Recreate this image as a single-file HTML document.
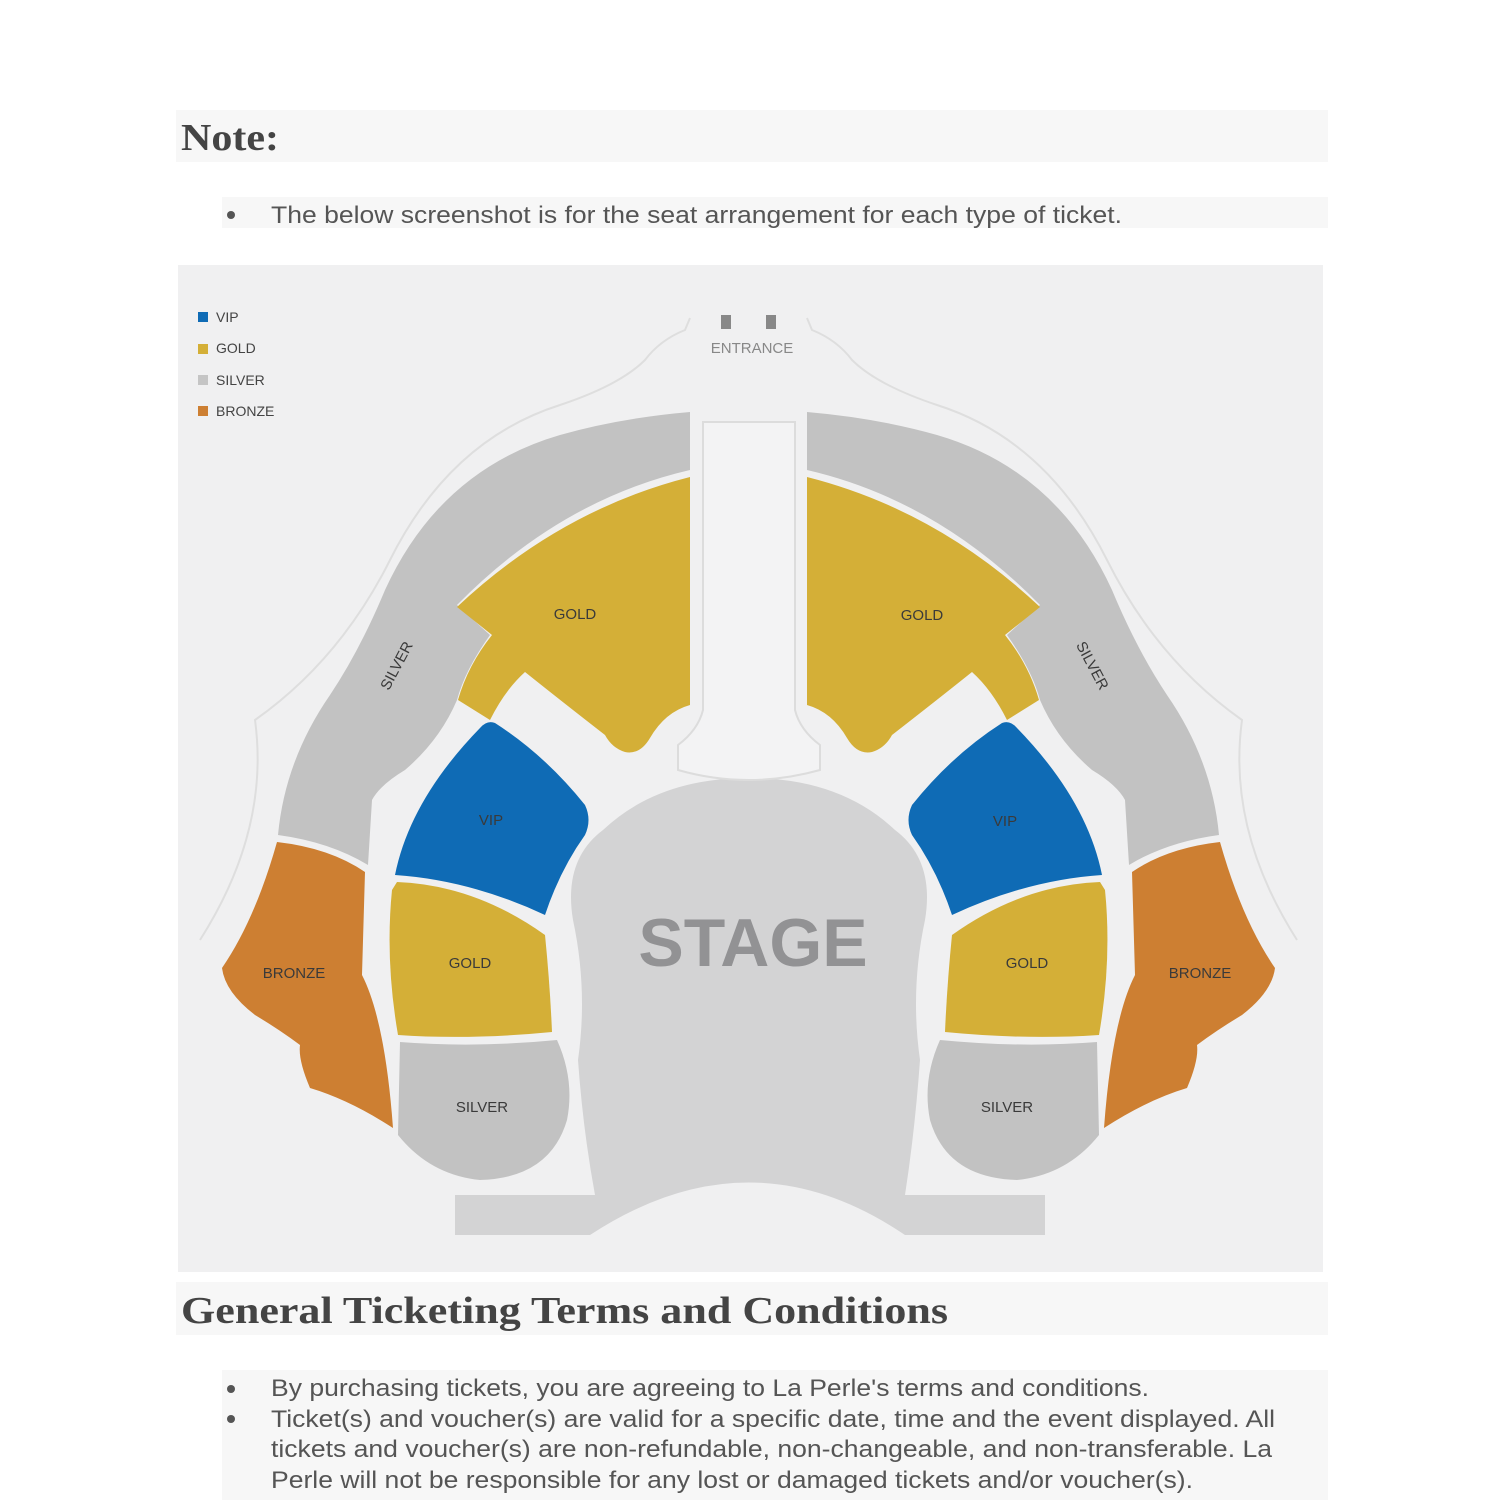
<!DOCTYPE html>
<html><head><meta charset="utf-8"><style>
html,body{margin:0;padding:0;background:#fff;}
svg{display:block;}
</style></head><body>
<svg width="1500" height="1500" viewBox="0 0 1500 1500" xmlns="http://www.w3.org/2000/svg">
<rect x="0" y="0" width="1500" height="1500" fill="#fff"/>
<rect x="176" y="110" width="1152" height="52" fill="#f7f7f7"/>
<text x="181" y="150" font-family="Liberation Serif, serif" font-weight="bold" font-size="38" fill="#444" textLength="98" lengthAdjust="spacingAndGlyphs">Note:</text>
<rect x="222" y="197" width="1106" height="31" fill="#f7f7f7"/>
<circle cx="231" cy="215" r="4" fill="#555"/>
<text x="271" y="223" font-family="Liberation Sans, sans-serif" font-size="24" fill="#555" textLength="851" lengthAdjust="spacingAndGlyphs">The below screenshot is for the seat arrangement for each type of ticket.</text>

<rect x="178" y="265" width="1145" height="1007" fill="#f0f0f1"/>

<!-- legend -->
<rect x="198" y="312" width="10" height="10" fill="#0f6bb5"/>
<rect x="198" y="344" width="10" height="10" fill="#d4af37"/>
<rect x="198" y="375" width="10" height="10" fill="#c5c5c5"/>
<rect x="198" y="406" width="10" height="10" fill="#cd7f32"/>
<g font-family="Liberation Sans, sans-serif" font-size="14" fill="#444">
<text x="216" y="322">VIP</text>
<text x="216" y="353">GOLD</text>
<text x="216" y="385">SILVER</text>
<text x="216" y="416">BRONZE</text>
</g>

<!-- entrance -->
<rect x="721" y="315" width="10" height="14" fill="#888"/>
<rect x="766" y="315" width="10" height="14" fill="#888"/>
<text x="752" y="353" text-anchor="middle" font-family="Liberation Sans, sans-serif" font-size="15" fill="#888">ENTRANCE</text>

<!-- stage -->
<path d="M455,1195 L455,1235 L590,1235 Q750,1130 905,1235 L1045,1235 L1045,1195 L905,1195 Q915,1130 920,1060 Q910,990 925,920 Q935,860 895,830 Q840,778 749,778 Q658,778 603,830 Q563,860 573,920 Q588,990 578,1060 Q583,1130 595,1195 Z" fill="#d3d3d4"/>
<text x="753" y="966" text-anchor="middle" font-family="Liberation Sans, sans-serif" font-weight="bold" font-size="68" fill="#929294">STAGE</text>

<!-- aisle -->
<path d="M703,422 L795,422 L795,710 Q800,730 820,745 L820,770 Q748,790 678,770 L678,745 Q698,730 703,710 Z" fill="#f3f3f4" stroke="#dcdcdc" stroke-width="2"/>

<g id="left">
<!-- outline -->
<path d="M690,318 L685,330 Q660,340 645,360 Q620,385 560,405 Q450,440 390,560 Q340,660 255,720 Q270,830 200,940" fill="none" stroke="#dedede" stroke-width="2"/>
<!-- silver upper -->
<path d="M690,412 L690,470 Q560,500 457,605 L490,635 Q465,670 457,700 Q440,740 405,770 Q380,785 372,800 L368,865 Q330,842 278,835 Q285,760 330,695 Q360,650 385,590 Q440,470 560,435 Q620,418 690,412 Z" fill="#c2c2c2"/>
<!-- gold upper -->
<path d="M690,477 L690,705 Q665,712 650,738 Q640,755 625,752 Q612,748 605,735 Q560,700 525,672 Q505,690 490,720 L458,700 Q468,665 492,635 L457,607 Q560,510 690,477 Z" fill="#d4af37"/>
<!-- VIP -->
<path d="M495,723 Q545,755 585,805 Q592,820 585,835 Q560,870 545,915 Q470,880 395,875 Q410,800 480,728 Q487,720 495,723 Z" fill="#0f6bb5"/>
<!-- gold lower -->
<path d="M397,882 Q475,885 545,935 Q550,985 552,1032 Q470,1040 398,1035 Q385,960 392,890 Z" fill="#d4af37"/>
<!-- silver lower -->
<path d="M400,1042 Q475,1048 557,1040 Q575,1080 567,1120 Q550,1178 480,1180 Q430,1175 398,1135 Z" fill="#c2c2c2"/>
<!-- bronze -->
<path d="M277,842 Q330,848 365,872 L362,975 Q385,1020 393,1128 Q350,1100 310,1088 Q298,1060 300,1045 Q280,1030 255,1015 Q225,992 222,968 Q255,920 277,842 Z" fill="#cd7f32"/>
</g>
<use href="#left" transform="translate(1497,0) scale(-1,1)"/>

<g font-family="Liberation Sans, sans-serif" font-size="15" fill="#3a3a3a" text-anchor="middle">
<text x="575" y="619">GOLD</text>
<text x="922" y="620">GOLD</text>
<text x="491" y="825">VIP</text>
<text x="1005" y="826">VIP</text>
<text x="470" y="968">GOLD</text>
<text x="1027" y="968">GOLD</text>
<text x="294" y="978">BRONZE</text>
<text x="1200" y="978">BRONZE</text>
<text x="482" y="1112">SILVER</text>
<text x="1007" y="1112">SILVER</text>
<text transform="translate(401,668) rotate(-62)">SILVER</text>
<text transform="translate(1088,668) rotate(62)">SILVER</text>
</g>

<rect x="176" y="1282" width="1152" height="53" fill="#f7f7f7"/>
<text x="181" y="1323" font-family="Liberation Serif, serif" font-weight="bold" font-size="38" fill="#444" textLength="767" lengthAdjust="spacingAndGlyphs">General Ticketing Terms and Conditions</text>
<rect x="222" y="1370" width="1106" height="130" fill="#f7f7f7"/>
<circle cx="231" cy="1389" r="4" fill="#555"/>
<circle cx="231" cy="1419" r="4" fill="#555"/>
<g font-family="Liberation Sans, sans-serif" font-size="24" fill="#555">
<text x="271" y="1396" textLength="878" lengthAdjust="spacingAndGlyphs">By purchasing tickets, you are agreeing to La Perle's terms and conditions.</text>
<text x="271" y="1427" textLength="1004" lengthAdjust="spacingAndGlyphs">Ticket(s) and voucher(s) are valid for a specific date, time and the event displayed. All</text>
<text x="271" y="1457" textLength="1001" lengthAdjust="spacingAndGlyphs">tickets and voucher(s) are non-refundable, non-changeable, and non-transferable. La</text>
<text x="271" y="1488" textLength="922" lengthAdjust="spacingAndGlyphs">Perle will not be responsible for any lost or damaged tickets and/or voucher(s).</text>
</g>
</svg>
</body></html>
